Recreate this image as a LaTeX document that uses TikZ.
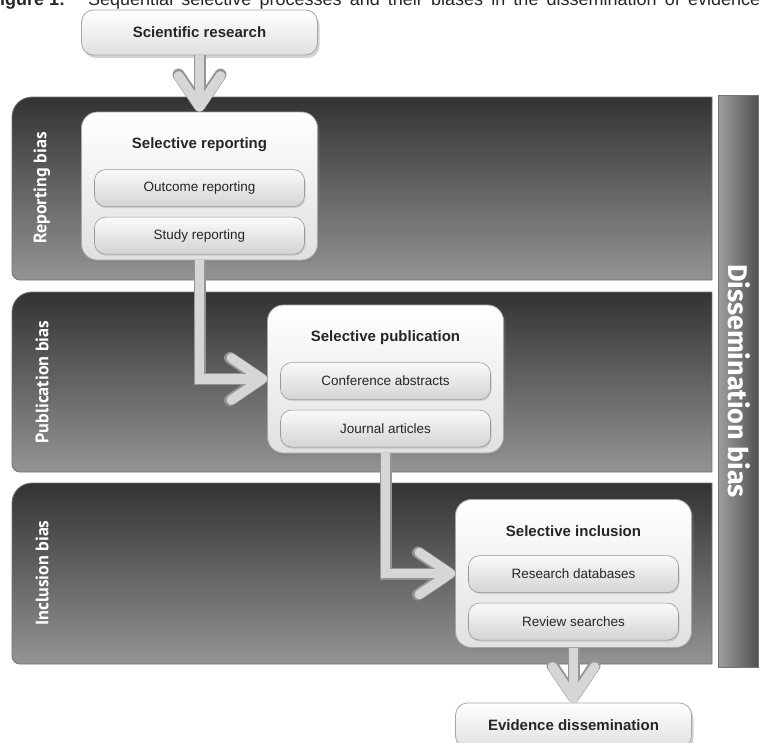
\documentclass[tikz,border=0pt]{standalone}
\usepackage{fontspec}
\setmainfont{Liberation Sans}
\newfontfamily\biasfont{PT Sans}
\newfontfamily\dissfont{Fira Sans}
\usetikzlibrary{positioning,arrows.meta,shadows}

\begin{document}
\begin{tikzpicture}[x=1pt, y=-1pt, node distance=47.5pt, on grid,
   stagebox/.style={draw=black!35, line width=0.8pt, rounded corners=16pt,
      top color=white, bottom color=black!12,
      minimum width=236pt, minimum height=148pt,
      drop shadow={opacity=0.35, shadow xshift=2pt, shadow yshift=-3pt}},
   endbox/.style={stagebox, rounded corners=12pt, minimum height=45pt,
      font=\bfseries\fontsize{15}{18}\selectfont, text=black!85},
   headtext/.style={font=\bfseries\fontsize{15}{18}\selectfont, text=black!85},
   itembox/.style={draw=black!40, line width=0.6pt, rounded corners=11pt,
      top color=black!2, bottom color=black!17,
      minimum width=210pt, minimum height=37pt,
      font=\fontsize{13.5}{16}\selectfont, text=black!85,
      drop shadow={opacity=0.25, shadow xshift=1pt, shadow yshift=-1.5pt}},
   band/.style={draw=black!55, line width=0.8pt, top color=black!80, bottom color=black!42},
   biaslabel/.style={rotate=90, text=white, font=\biasfont\bfseries\fontsize{18}{20}\selectfont},
   captext/.style={anchor=base west, inner sep=0pt, text=black!85, font=\fontsize{18}{21}\selectfont},
   flow/.style={draw=black!16, line width=9.5pt,
      -{Straight Barb[length=31pt, width=42pt, round]},
      preaction={draw=black!42, line width=12pt,
         -{Straight Barb[length=31pt, width=42pt, round]}}}]
   \useasboundingbox (0,0) rectangle (760,742);

   % caption, cut at the top as in the figure
   \begin{scope}
      \clip (0,0) rectangle (760,742);
      \node[captext] (cap-num) at (-11,5.5) {\bfseries Figure 1:};
      \node[captext] (cap-txt) at (88,5.5)
         {\hbox to 672pt{Sequential selective processes and their biases in the dissemination of evidence}};
   \end{scope}

   % bias bands
   \shade[band] (712,97) -- (712,280) [rounded corners=8pt] -- (12,280) [rounded corners=20pt] -- (12,97) [sharp corners] -- cycle;
   \shade[band] (712,292) -- (712,472) [rounded corners=8pt] -- (12,472) [rounded corners=20pt] -- (12,292) [sharp corners] -- cycle;
   \shade[band] (712,483) -- (712,664) [rounded corners=8pt] -- (12,664) [rounded corners=20pt] -- (12,483) [sharp corners] -- cycle;
   \node[biaslabel] (rep-bias) at (42,188) {Reporting bias};
   \node[biaslabel] (pub-bias) at (42,382) {Publication bias};
   \node[biaslabel] (incl-bias) at (42,573) {Inclusion bias};

   \shade[draw=black!55, line width=0.8pt, left color=black!38, right color=black!68] (718,95) rectangle (758,667);
   \node[rotate=-90, text=white, font=\dissfont\bfseries\fontsize{27}{30}\selectfont] (diss) at (739,381) {Dissemination bias};

   % stages
   \node[endbox] (sci) at (199.5,32.5) {Scientific research};

   \node[stagebox] (rep) at (199.5,186) {};
   \node[headtext] (rep-t) [below=22.5pt of rep.north] {Selective reporting};
   \node[itembox] (rep-a) [below=43.5pt of rep-t] {Outcome reporting};
   \node[itembox] (rep-b) [below=of rep-a] {Study reporting};

   \node[stagebox] (pub) at (385.5,379) {};
   \node[headtext] (pub-t) [below=22.5pt of pub.north] {Selective publication};
   \node[itembox] (pub-a) [below=43.5pt of pub-t] {Conference abstracts};
   \node[itembox] (pub-b) [below=of pub-a] {Journal articles};

   \node[stagebox] (incl) at (573.5,573.5) {};
   \node[headtext] (incl-t) [below=22.5pt of incl.north] {Selective inclusion};
   \node[itembox] (incl-a) [below=43.5pt of incl-t] {Research databases};
   \node[itembox] (incl-b) [below=of incl-a] {Review searches};

   \node[endbox] (ev) at (573.5,725.5) {Evidence dissemination};

   \path
    (sci) edge[flow] (rep)
    (incl) edge[flow] (ev);
   \draw[flow] (rep) |- (pub);
   \draw[flow] (pub) |- (incl);
\end{tikzpicture}
\end{document}
